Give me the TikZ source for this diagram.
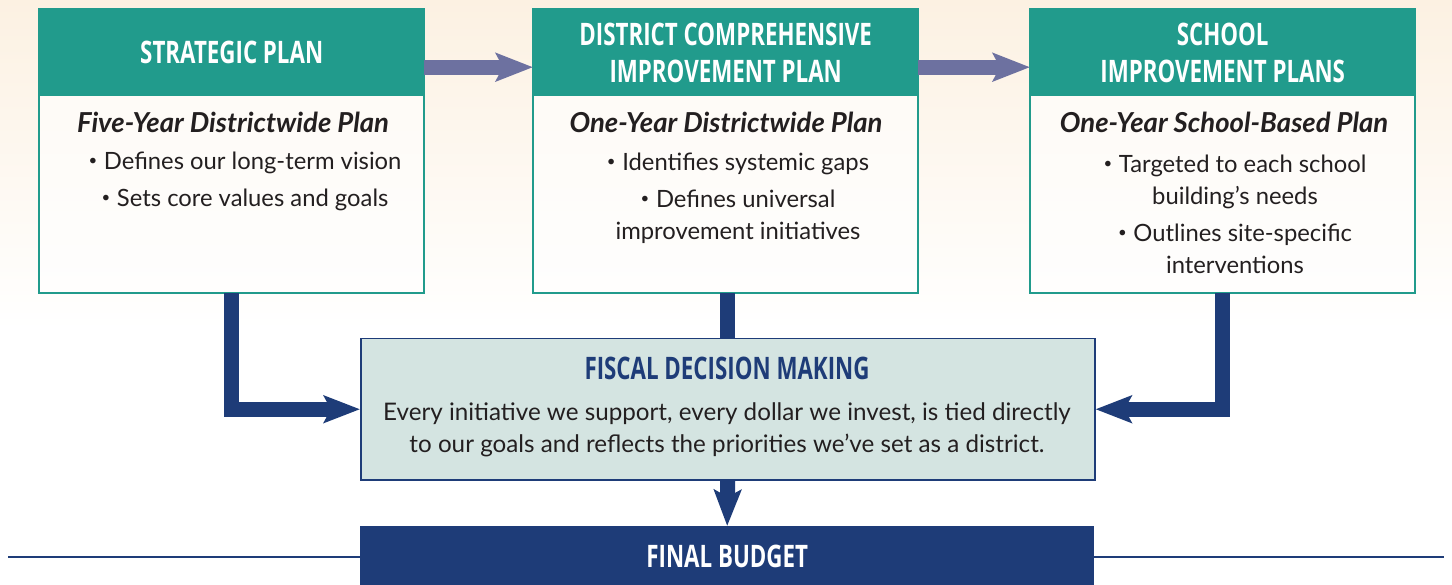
\documentclass[tikz,border=0pt]{standalone}
\usepackage{fontspec}
\setmainfont{Lato}
\newfontfamily\hfont[FakeStretch=0.72]{Open Sans}
\usetikzlibrary{arrows.meta}
\definecolor{tealc}{HTML}{219B8C}
\definecolor{purpc}{HTML}{6D71A0}
\definecolor{navyc}{HTML}{1E3C78}
\definecolor{lightc}{HTML}{D4E4E1}
\definecolor{creamc}{HTML}{FCF1E2}
\definecolor{inkc}{HTML}{231F20}
\newcommand\mybul{\raisebox{0.32ex}{\fontsize{15}{15}\selectfont•}\hspace{0.28em}}
\tikzset{
  headbox/.style={fill=tealc, text=white, font=\hfont\bfseries\fontsize{31}{37}\selectfont,
    align=center, inner sep=0pt, minimum width=385pt, minimum height=87pt, anchor=north west},
  bodybox/.style={fill=white, fill opacity=0.6, inner sep=0pt, minimum width=385pt,
    minimum height=197pt, anchor=north west},
  frame/.style={draw=tealc, line width=2pt},
  ttl/.style={font=\bfseries\itshape\fontsize{27.5}{30}\selectfont, text=inkc, inner sep=0pt},
  lst/.style={font=\fontsize{23.8}{32}\selectfont, text=inkc, align=center, inner sep=0pt},
  purpar/.style={draw=purpc, line width=15pt, -{Stealth[length=37pt 0 0, width=28pt 0 0, inset=7pt]}},
  navyar/.style={draw=navyc, line width=15pt, line join=miter, -{Stealth[length=36pt 0 0, width=27pt 0 0, inset=7pt]}},
  navyln/.style={draw=navyc, line width=15pt},
}
\begin{document}
\begin{tikzpicture}[x=1pt,y=-1pt]
\fill[white] (0,0) rectangle (1452,585);
\shade[top color=creamc, bottom color=white] (0,0) rectangle (1452,330);
\useasboundingbox (0,0) rectangle (1452,585);

% top boxes
\node[headbox] (h1) at (39,9) {STRATEGIC PLAN};
\node[bodybox] (b1) at (39,96) {};
\draw[frame] (h1.north west) rectangle (b1.south east);
\node[headbox] (h2) at (533,9) {DISTRICT COMPREHENSIVE\\IMPROVEMENT PLAN};
\node[bodybox] (b2) at (533,96) {};
\draw[frame] (h2.north west) rectangle (b2.south east);
\node[headbox] (h3) at (1030,9) {SCHOOL\\IMPROVEMENT PLANS};
\node[bodybox] (b3) at (1030,96) {};
\draw[frame] (h3.north west) rectangle (b3.south east);

\node[ttl] (t1) at (233,122) {Five-Year Districtwide Plan};
\node[lst] (l1) at (245,181) {\mybul Defines our long-term vision\\[5pt]\mybul Sets core values and goals};
\node[ttl] (t2) at (726,122) {One-Year Districtwide Plan};
\node[lst] (l2) at (738,198) {\mybul Identifies systemic gaps\\[5pt]\mybul Defines universal\\improvement initiatives};
\node[ttl] (t3) at (1224,122) {One-Year School-Based Plan};
\node[lst] (l3) at (1235,214) {\mybul Targeted to each school\\building’s needs\\[5pt]\mybul Outlines site-specific\\interventions};

% fiscal box
\node[fill=lightc, draw=navyc, line width=1.5pt, minimum width=734pt, minimum height=141pt,
  inner sep=0pt, anchor=north west] (fd) at (360,338) {};
\node[font=\hfont\bfseries\fontsize{31}{34}\selectfont, text=navyc, inner sep=0pt] (ft) at (727,368) {FISCAL DECISION MAKING};
\node[lst, font=\fontsize{24.2}{32}\selectfont] (fx) at (727,430) {Every initiative we support, every dollar we invest, is tied directly\\to our goals and reflects the priorities we’ve set as a district.};

% final budget
\node[fill=navyc, minimum width=734pt, minimum height=60pt, inner sep=0pt, anchor=north west,
  text=white, font=\hfont\bfseries\fontsize{31}{34}\selectfont] (fb) at (360,526) {FINAL BUDGET};
\coordinate (ll) at (8,557);
\coordinate (rl) at (1444,557);
\draw[navyc, line width=2pt] (ll) -- (fb.west |- ll);
\draw[navyc, line width=2pt] (fb.east |- rl) -- (rl);

% connectors
\draw[purpar] ([yshift=-14.5pt]h1.east) -- ([yshift=-14.5pt]h2.west);
\draw[purpar] ([yshift=-14.5pt]h2.east) -- ([yshift=-14.5pt]h3.west);
\draw[navyar] (b1.south) |- (fd.west);
\draw[navyln] (b2.south -| fd.north) -- (fd.north);
\draw[navyar] (b3.south) |- (fd.east);
\draw[navyar] (fd.south) -- (fb.north);
\end{tikzpicture}
\end{document}
